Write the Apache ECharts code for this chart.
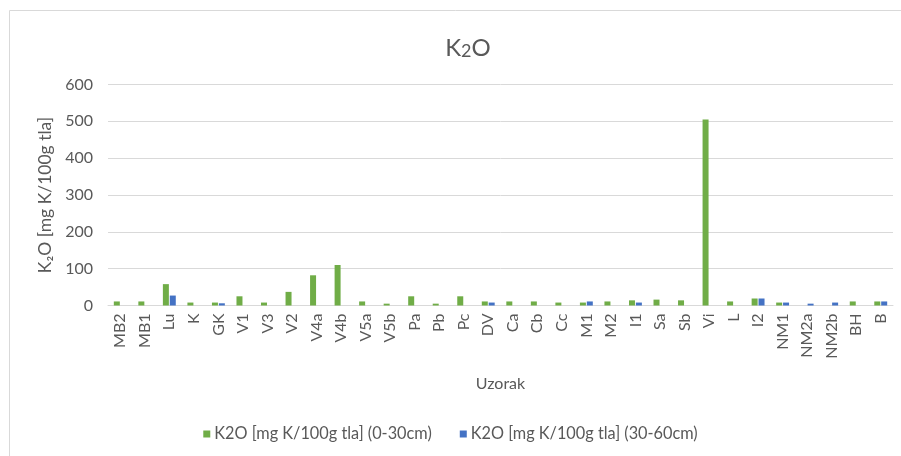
<!DOCTYPE html>
<html><head><meta charset="utf-8">
<script src="https://cdn.jsdelivr.net/npm/echarts@6/dist/echarts.min.js"></script>
<style>html,body{margin:0;padding:0;background:#fff}#c{width:901px;height:456px}</style>
</head><body><div id="c"></div>
<script>
const categories = ['MB2','MB1','Lu','K','GK','V1','V3','V2','V4a','V4b','V5a','V5b','Pa','Pb','Pc','DV','Ca','Cb','Cc','M1','M2','I1','Sa','Sb','Vi','L','I2','NM1','NM2a','NM2b','BH','B'];
const top0_30 = [11,11,58,8,8,25,8,37,82,110,11,5,25,5,25,11,11,11,8,8,11,14,16,14,505,11,19,8,0,0,11,11];
const sub30_60 = [0,0,27,0,6,0,0,0,0,0,0,0,0,0,0,8,0,0,0,11,0,8,0,0,0,0,19,8,5,8,0,11];
const yTicks = [0,100,200,300,400,500,600];
const seriesNames = ['K2O [mg K/100g tla] (0-30cm)','K2O [mg K/100g tla] (30-60cm)'];

const font = 'Lato, Liberation Sans, sans-serif';
const txt = '#595959';
const chart = echarts.init(document.getElementById('c'), null, {renderer:'canvas'});
chart.setOption({
  animation:false,
  textStyle:{fontFamily:font},
  graphic:[{type:'polyline', shape:{points:[[9.5,1000],[9.5,10.5],[1000,10.5]]}, style:{fill:'none',stroke:'#d9d9d9',lineWidth:1}, silent:true}],
  title:{
    text:'{a|K}{b|2}{a|O}', left:463, top:31, textAlign:'center',
    textStyle:{fontWeight:'normal', rich:{a:{fontSize:24,color:txt,fontFamily:font},b:{fontSize:18,color:txt,fontFamily:font,verticalAlign:'bottom',padding:[5,0,0,0]}}}
  },
  grid:{left:108, right:8, top:84.5, bottom:150.5, containLabel:false},
  legend:{
    bottom:9, left:'center', itemWidth:7, itemHeight:7, itemGap:28, itemStyle:{borderWidth:0},
    icon:'rect', textStyle:{color:txt, fontSize:16.3, fontFamily:font, padding:[0,0,0,-1]},
    data:seriesNames
  },
  xAxis:{
    type:'category', data:categories, name:'Uzorak', nameLocation:'middle', nameGap:70,
    nameTextStyle:{color:txt, fontSize:16, fontFamily:font},
    axisLine:{lineStyle:{color:'#d9d9d9',width:1}}, axisTick:{show:false},
    axisLabel:{rotate:90, color:txt, fontSize:16, fontFamily:font, interval:0, margin:8}
  },
  yAxis:{
    type:'value', min:yTicks[0], max:yTicks[yTicks.length-1], interval:100,
    name:'K₂O [mg K/100g tla]', nameLocation:'middle', nameGap:50,
    nameTextStyle:{color:txt, fontSize:17.5, fontFamily:font},
    axisLine:{show:false}, axisTick:{show:false},
    axisLabel:{color:txt, fontSize:16, fontFamily:font, margin:15},
    splitLine:{lineStyle:{color:'#d9d9d9',width:1}}
  },
  series:[
    {name:seriesNames[0], type:'bar', data:top0_30, barWidth:6, barGap:'15%', itemStyle:{color:'#70ad47'}},
    {name:seriesNames[1], type:'bar', data:sub30_60, barWidth:6, barGap:'15%', itemStyle:{color:'#4472c4'}}
  ]
});
</script></body></html>
